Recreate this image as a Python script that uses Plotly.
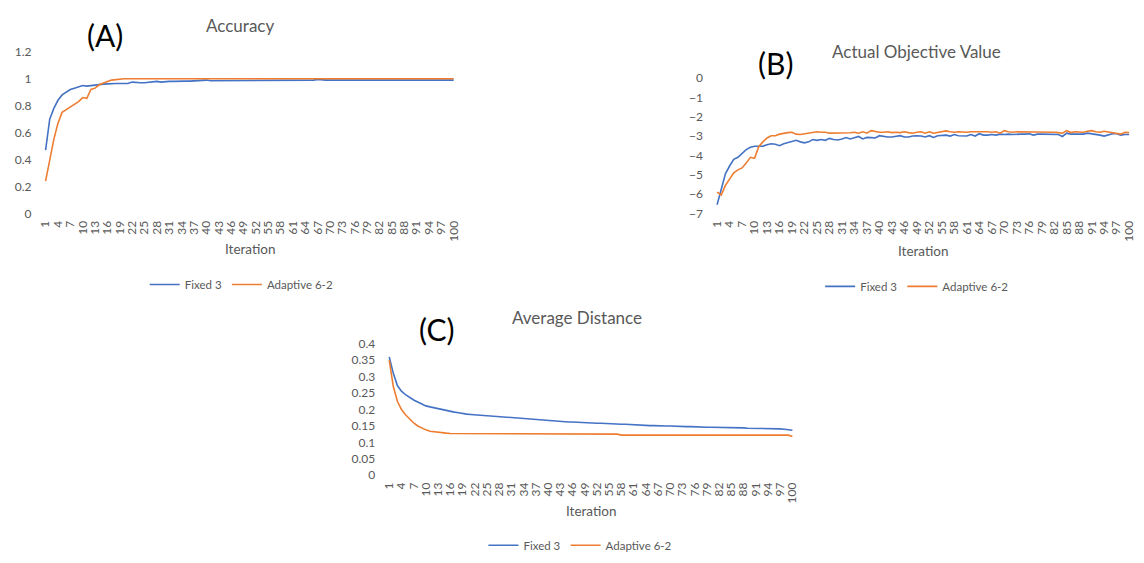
import plotly.graph_objects as go

iterations = list(range(1, 101))
tick_vals = list(range(1, 101, 3))
tick_text = [str(v) for v in tick_vals]

acc_fixed = [0.47, 0.70, 0.78, 0.84, 0.88, 0.90, 0.92, 0.93, 0.94, 0.95,
             0.945, 0.95, 0.955, 0.96, 0.96, 0.962, 0.965, 0.965, 0.965, 0.965,
             0.965, 0.975, 0.97, 0.97, 0.97, 0.972, 0.975, 0.98, 0.975, 0.98,
             0.98, 0.98, 0.982, 0.985, 0.982, 0.982, 0.983, 0.985, 0.985, 0.99,
             0.985, 0.985, 0.99, 0.99, 0.985, 0.99, 0.99, 0.99, 0.99, 0.99,
             0.99, 0.985, 0.99, 0.99, 0.99, 0.99, 0.99, 0.99, 0.99, 0.99,
             0.985, 0.99, 0.99, 0.99, 0.99, 0.99, 0.995, 0.99, 0.99, 0.99,
             0.99, 0.99, 0.99, 0.99, 0.99, 0.99, 0.99, 0.99, 0.99, 0.99,
             0.99, 0.99, 0.99, 0.99, 0.995, 0.99, 0.995, 0.99, 0.99, 0.99,
             0.99, 0.99, 0.99, 0.99, 0.99, 0.99, 0.995, 0.99, 0.99, 0.99]
acc_adapt = [0.24, 0.40, 0.55, 0.67, 0.75, 0.77, 0.79, 0.81, 0.83, 0.86,
             0.855, 0.92, 0.93, 0.955, 0.97, 0.98, 0.99, 0.995, 1.0, 1.0,
             1.0, 1.0, 1.0, 1.0, 1.0, 1.0, 1.0, 1.0, 1.0, 1.0,
             1.0, 1.0, 1.0, 1.0, 1.0, 1.0, 1.0, 1.0, 1.0, 1.0,
             1.0, 1.0, 1.0, 1.0, 1.0, 1.0, 1.0, 1.0, 1.0, 1.0,
             1.0, 1.0, 1.0, 1.0, 1.0, 1.0, 1.0, 1.0, 1.0, 1.0,
             1.0, 1.0, 1.0, 1.0, 1.0, 1.0, 1.0, 1.0, 1.0, 1.0,
             1.0, 1.0, 1.0, 1.0, 1.0, 1.0, 1.0, 1.0, 1.0, 1.0,
             1.0, 1.0, 1.0, 1.0, 0.995, 1.0, 1.0, 1.0, 1.0, 1.0,
             1.0, 1.0, 1.0, 1.0, 1.0, 1.0, 0.995, 1.0, 1.0, 1.0]

obj_fixed = [-6.55, -5.8, -4.95, -4.55, -4.2, -4.1, -3.9, -3.7, -3.58, -3.53,
             -3.53, -3.52, -3.45, -3.4, -3.42, -3.5, -3.4, -3.33, -3.27, -3.22,
             -3.3, -3.35, -3.3, -3.18, -3.22, -3.18, -3.22, -3.12, -3.18, -3.2,
             -3.15, -3.08, -3.15, -3.1, -3.02, -3.15, -3.07, -3.08, -3.1, -2.98,
             -3.02, -3.05, -3.05, -3.03, -2.98, -3.05, -3.05, -3.0, -2.98, -3.0,
             -3.05, -2.98, -3.07, -2.98, -2.95, -2.95, -3.0, -2.92, -2.98, -2.98,
             -3.0, -2.92, -3.0, -2.88, -2.95, -2.95, -2.92, -2.95, -2.9, -2.92,
             -2.9, -2.92, -2.9, -2.9, -2.9, -2.88, -2.95, -2.9, -2.9, -2.9,
             -2.9, -2.9, -2.92, -3.02, -2.85, -2.9, -2.9, -2.92, -2.9, -2.85,
             -2.88, -2.9, -2.95, -3.0, -2.95, -2.88, -2.88, -2.95, -2.92, -2.92]
obj_adapt = [-5.9, -6.05, -5.55, -5.25, -4.9, -4.75, -4.65, -4.4, -4.1, -4.15,
             -3.55, -3.3, -3.1, -2.98, -2.98, -2.9, -2.85, -2.82, -2.8, -2.9,
             -2.92, -2.88, -2.83, -2.8, -2.78, -2.8, -2.8, -2.85, -2.85, -2.85,
             -2.83, -2.83, -2.83, -2.8, -2.85, -2.78, -2.85, -2.72, -2.78, -2.8,
             -2.8, -2.78, -2.82, -2.8, -2.82, -2.78, -2.82, -2.85, -2.8, -2.78,
             -2.85, -2.78, -2.85, -2.8, -2.75, -2.73, -2.78, -2.8, -2.78, -2.8,
             -2.8, -2.78, -2.78, -2.75, -2.78, -2.78, -2.8, -2.78, -2.85, -2.72,
             -2.78, -2.8, -2.78, -2.78, -2.78, -2.78, -2.78, -2.8, -2.78, -2.8,
             -2.78, -2.8, -2.82, -2.85, -2.72, -2.82, -2.78, -2.78, -2.8, -2.75,
             -2.72, -2.78, -2.8, -2.75, -2.78, -2.82, -2.85, -2.9, -2.8, -2.82]

dist_fixed = [0.36, 0.31, 0.273, 0.256, 0.245, 0.236, 0.229, 0.223, 0.217, 0.211,
              0.208, 0.205, 0.202, 0.2, 0.198, 0.195, 0.192, 0.19, 0.187, 0.186,
              0.185, 0.184, 0.183, 0.181, 0.18, 0.179, 0.178, 0.177, 0.176, 0.175,
              0.175, 0.174, 0.173, 0.172, 0.171, 0.17, 0.169, 0.168, 0.167, 0.166,
              0.165, 0.165, 0.164, 0.163, 0.162, 0.162, 0.161, 0.16, 0.16, 0.159,
              0.159, 0.158, 0.158, 0.157, 0.156, 0.156, 0.156, 0.155, 0.155, 0.154,
              0.153, 0.153, 0.152, 0.152, 0.151, 0.151, 0.15, 0.15, 0.15, 0.15,
              0.149, 0.149, 0.149, 0.148, 0.148, 0.147, 0.147, 0.147, 0.146, 0.146,
              0.146, 0.145, 0.145, 0.145, 0.145, 0.144, 0.144, 0.144, 0.143, 0.143,
              0.143, 0.142, 0.142, 0.141, 0.141, 0.141, 0.141, 0.14, 0.139, 0.137]
dist_adapt = [0.35, 0.27, 0.225, 0.2, 0.184, 0.17, 0.159, 0.15, 0.143, 0.138,
              0.134, 0.132, 0.13, 0.129, 0.128, 0.127, 0.127, 0.127, 0.127, 0.127,
              0.127, 0.127, 0.127, 0.127, 0.127, 0.127, 0.127, 0.127, 0.127, 0.125,
              0.125, 0.125, 0.125, 0.125, 0.125, 0.125, 0.125, 0.125, 0.125, 0.125,
              0.125, 0.125, 0.125, 0.125, 0.125, 0.125, 0.125, 0.125, 0.125, 0.125,
              0.125, 0.125, 0.125, 0.125, 0.125, 0.125, 0.125, 0.122, 0.122, 0.122,
              0.122, 0.122, 0.122, 0.122, 0.122, 0.122, 0.122, 0.122, 0.122, 0.122,
              0.122, 0.122, 0.122, 0.122, 0.122, 0.122, 0.122, 0.122, 0.122, 0.122,
              0.122, 0.122, 0.122, 0.122, 0.122, 0.122, 0.122, 0.122, 0.122, 0.122,
              0.122, 0.122, 0.122, 0.122, 0.122, 0.122, 0.122, 0.122, 0.122, 0.118]

series_names = ["Fixed 3", "Adaptive 6-2"]
BLUE = "#4472C4"
ORANGE = "#ED7D31"
GREY = "#595959"
FONT = "Lato, 'Open Sans', sans-serif"

W, H = 1144, 563


def px_x(p):
    return p / W


def px_y(p):
    return (H - p) / H


panels = [
    dict(xa="x", ya="y", lg="legend", fixed=acc_fixed, adapt=acc_adapt,
         xpx=(37.9, 454.1), ypx=(45, 211), yrange=[0, 1.2], dtick=0.2,
         title="Accuracy", tpos=(236, 18), letter="(A)", lpos=(100, 28),
         xt_y=248, leg=(238, 284)),
    dict(xa="x2", ya="y2", lg="legend2", fixed=obj_fixed, adapt=obj_adapt,
         xpx=(715.9, 1136.1), ypx=(72, 211), yrange=[-7, 0], dtick=1,
         title="Actual Objective Value", tpos=(919, 45), letter="(B)", lpos=(777, 57),
         xt_y=250, leg=(920, 286)),
    dict(xa="x3", ya="y3", lg="legend3", fixed=dist_fixed, adapt=dist_adapt,
         xpx=(384.9, 796.1), ypx=(345, 480), yrange=[0, 0.4], dtick=0.05,
         title="Average Distance", tpos=(577, 318), letter="(C)", lpos=(435, 330),
         xt_y=517, leg=(580, 552)),
]

fig = go.Figure()
layout = dict(
    width=W, height=H, margin=dict(l=0, r=0, t=0, b=0),
    paper_bgcolor="white", plot_bgcolor="white",
    font=dict(family=FONT, color=GREY, size=12),
    annotations=[],
)

for i, p in enumerate(panels):
    for name, vals, col in [(series_names[0], p["fixed"], BLUE), (series_names[1], p["adapt"], ORANGE)]:
        fig.add_trace(go.Scatter(
            x=iterations, y=vals, mode="lines", name=name,
            line=dict(color=col, width=1.6),
            xaxis=p["xa"], yaxis=p["ya"], legend=p["lg"],
        ))
    xkey = "xaxis" if p["xa"] == "x" else "xaxis" + p["xa"][1:]
    ykey = "yaxis" if p["ya"] == "y" else "yaxis" + p["ya"][1:]
    layout[xkey] = dict(
        domain=[px_x(p["xpx"][0]), px_x(p["xpx"][1])],
        anchor=p["ya"], range=[0.5, 100.5],
        tickmode="array", tickvals=tick_vals, ticktext=tick_text,
        tickangle=-90, showgrid=False, zeroline=False, showline=False,
        ticks="", tickfont=dict(size=12, color=GREY, family=FONT),
        ticklabelstandoff=4,
    )
    layout[ykey] = dict(
        domain=[px_y(p["ypx"][1]), px_y(p["ypx"][0])],
        anchor=p["xa"], range=p["yrange"], dtick=p["dtick"],
        showgrid=False, zeroline=False, showline=False, ticks="",
        tickfont=dict(size=12, color=GREY, family=FONT),
        ticklabelstandoff=11,
    )
    layout[p["lg"]] = dict(
        orientation="h", x=px_x(p["leg"][0]), y=px_y(p["leg"][1]),
        xanchor="center", yanchor="middle", bgcolor="rgba(0,0,0,0)",
        font=dict(size=11.5, color=GREY, family=FONT),
        itemwidth=30, tracegroupgap=0,
    )
    layout["annotations"] += [
        dict(text=p["title"], x=px_x(p["tpos"][0]), y=px_y(p["tpos"][1]),
             xref="paper", yref="paper", showarrow=False,
             xanchor="center", yanchor="middle",
             font=dict(size=17, color=GREY, family=FONT)),
        dict(text=p["letter"], x=px_x(p["lpos"][0]), y=px_y(p["lpos"][1]),
             xref="paper", yref="paper", showarrow=False,
             xanchor="center", yanchor="middle",
             font=dict(size=30, color="black", family=FONT)),
        dict(text="Iteration", x=(px_x(p["xpx"][0]) + px_x(p["xpx"][1])) / 2, y=px_y(p["xt_y"]),
             xref="paper", yref="paper", showarrow=False,
             xanchor="center", yanchor="middle",
             font=dict(size=13.5, color=GREY, family=FONT)),
    ]

fig.update_layout(**layout)
fig.write_html("out.html")
